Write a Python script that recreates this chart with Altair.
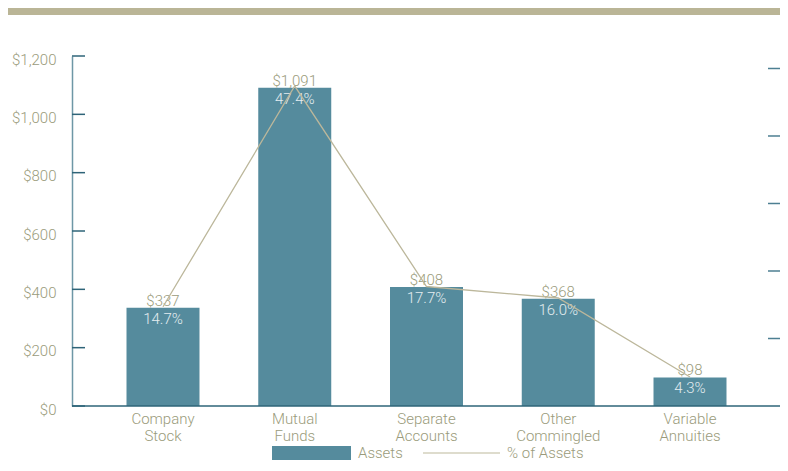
import altair as alt
import pandas as pd

categories = ["Company Stock", "Mutual Funds", "Separate Accounts", "Other Commingled", "Variable Annuities"]
assets = [337, 1091, 408, 368, 98]
pct = [14.7, 47.4, 17.7, 16.0, 4.3]
dollar_labels = ["$337", "$1,091", "$408", "$368", "$98"]
pct_labels = ["14.7%", "47.4%", "17.7%", "16.0%", "4.3%"]
y_ticks = [0, 200, 400, 600, 800, 1000, 1200]
pct_ticks = [10, 20, 30, 40, 50]
legend_items = ["Assets", "% of Assets"]

df = pd.DataFrame({"category": categories, "assets": assets, "pct": pct,
                   "dlabel": dollar_labels, "plabel": pct_labels})
df_yt = pd.DataFrame({"v": y_ticks})
df_pt = pd.DataFrame({"v": pct_ticks})
df_one = pd.DataFrame({"k": [0]})

W, H = 708, 350
FONT = "Roboto"
FS = 15
FW = 300
TXT = "#9a9b7b"
BAR = "#558b9d"
LINE = "#bcb79b"
AXIS = "#2e6478"
BAND = "#bab596"

x_enc = alt.X("category:N", sort=categories,
              scale=alt.Scale(range=[0, 709], paddingInner=0.446, paddingOuter=0.4137),
              axis=alt.Axis(title=None, domain=False, ticks=False, labelAngle=0,
                            labelExpr="split(datum.label, ' ')", labelFont=FONT,
                            labelFontSize=FS, labelFontWeight=FW, labelColor=TXT,
                            labelPadding=5, labelLineHeight=17, labelBaseline="top"))

y_scale = alt.Scale(domain=[0, 1200], nice=False, zero=True)
p_scale = alt.Scale(domain=[0, 51.85], nice=False, zero=True)

bars = alt.Chart(df).mark_bar(color=BAR).encode(
    x=x_enc,
    y=alt.Y("assets:Q", scale=y_scale,
            axis=alt.Axis(title=None, values=y_ticks, ticks=False, grid=False,
                          domainColor="#6e97a6", domainWidth=1.5,
                          labelExpr="'$' + format(datum.value, ',')",
                          labelColor=TXT, labelFont=FONT, labelFontSize=FS,
                          labelFontWeight=FW, labelPadding=16, labelOffset=3)),
)

left_ticks = alt.Chart(df_yt).mark_rule(color=AXIS, strokeWidth=1.5).encode(
    y=alt.Y("v:Q", scale=y_scale, axis=None),
    x=alt.value(0), x2=alt.value(13),
)

baseline = alt.Chart(df_one).mark_rule(color=AXIS, strokeWidth=1.5).encode(
    y=alt.value(H), x=alt.value(0), x2=alt.value(W),
)

dtext = alt.Chart(df).mark_text(dy=-2, baseline="alphabetic", color=TXT, fontSize=FS,
                                font=FONT, fontWeight=FW).encode(
    x=alt.X("category:N", sort=categories),
    y=alt.Y("assets:Q", scale=y_scale, axis=None),
    text="dlabel:N",
)

ptext = alt.Chart(df).mark_text(dy=16, baseline="alphabetic", color="#e4edf0", fontSize=FS,
                                font=FONT, fontWeight=FW).encode(
    x=alt.X("category:N", sort=categories),
    y=alt.Y("assets:Q", scale=y_scale, axis=None),
    text="plabel:N",
)

line = alt.Chart(df).mark_line(color=LINE, strokeWidth=1.3).encode(
    x=alt.X("category:N", sort=categories),
    y=alt.Y("pct:Q", scale=p_scale, axis=None),
)

right_ticks = alt.Chart(df_pt).mark_rule(color="#4d7f92", strokeWidth=1.5).encode(
    y=alt.Y("v:Q", scale=p_scale, axis=None),
    x=alt.value(W - 12), x2=alt.value(W),
)

band = alt.Chart(df_one).mark_rect(color=BAND).encode(
    x=alt.value(-64), x2=alt.value(W), y=alt.value(-48), y2=alt.value(-41),
)

LY = 397
leg_rect = alt.Chart(df_one).mark_rect(color=BAR).encode(
    x=alt.value(200), x2=alt.value(279), y=alt.value(LY - 7), y2=alt.value(LY + 7),
)
leg_line = alt.Chart(df_one).mark_rule(color="#d3d0bd", strokeWidth=1.5).encode(
    x=alt.value(351), x2=alt.value(428), y=alt.value(LY),
)
leg_t1 = alt.Chart(df_one).mark_text(text=legend_items[0], align="left", baseline="middle",
                                     color=TXT, fontSize=FS, font=FONT, fontWeight=FW).encode(
    x=alt.value(286), y=alt.value(LY),
)
leg_t2 = alt.Chart(df_one).mark_text(text=legend_items[1], align="left", baseline="middle",
                                     color=TXT, fontSize=FS, font=FONT, fontWeight=FW).encode(
    x=alt.value(435), y=alt.value(LY),
)

chart = alt.layer(
    band, bars, left_ticks, baseline, dtext, ptext, line, right_ticks,
    leg_rect, leg_line, leg_t1, leg_t2,
).resolve_scale(y="independent").properties(
    width=W, height=H,
    padding={"left": 64, "top": 48, "right": 0, "bottom": 57},
    autosize=alt.AutoSizeParams(type="none"),
).configure_view(stroke=None)

chart.save("out.html", embed_options={"renderer": "svg", "actions": False})
